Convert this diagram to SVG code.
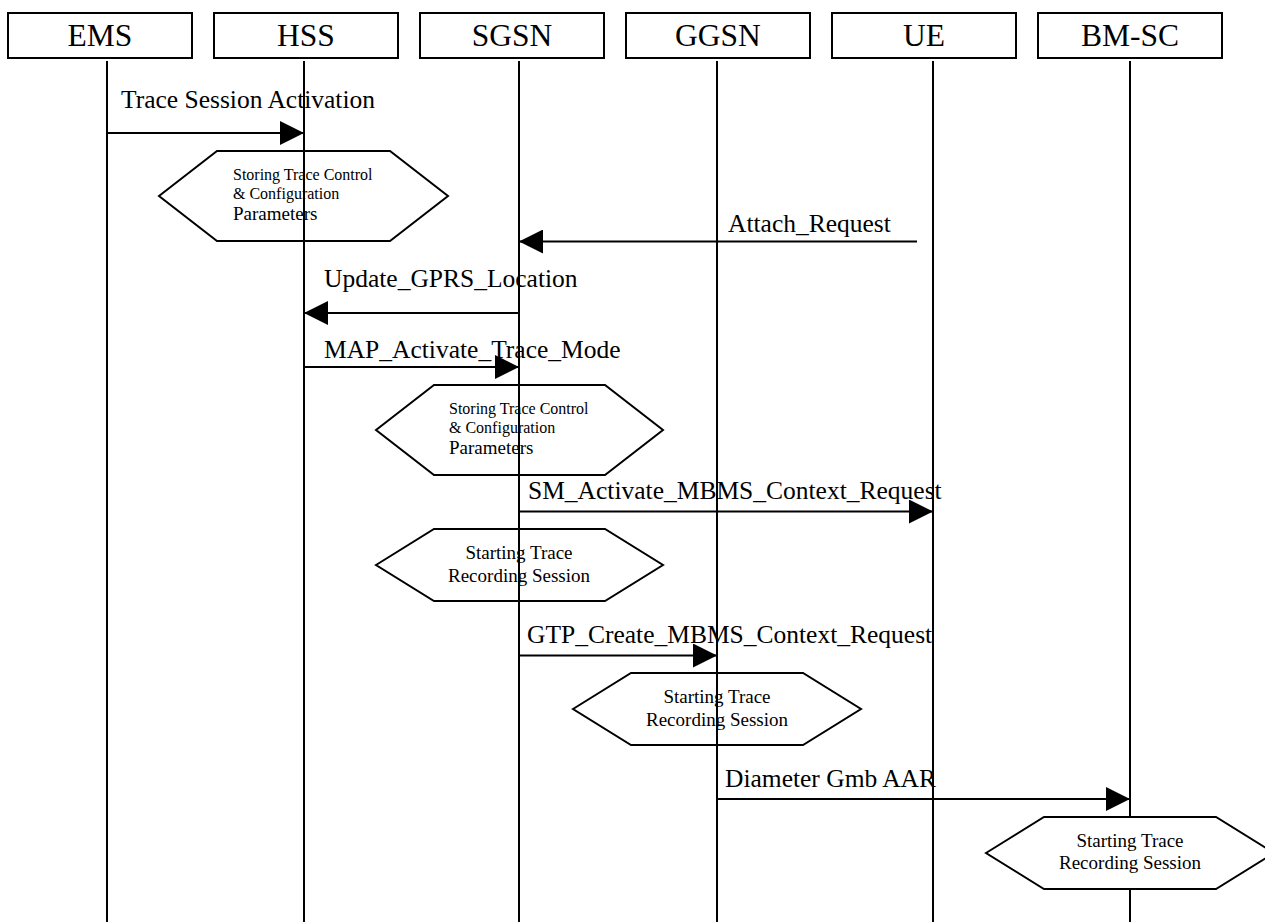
<svg xmlns="http://www.w3.org/2000/svg" width="1265" height="922" viewBox="0 0 1265 922">
<defs>
<style>
.box{fill:#fff;stroke:#000;stroke-width:2}
.life{stroke:#000;stroke-width:2;fill:none}
.hex{fill:#fff;stroke:#000;stroke-width:2}
.msg{stroke:#000;stroke-width:2;fill:none;marker-end:url(#ah)}
text{font-family:"Liberation Serif","Times New Roman",serif;fill:#000}
.hd{font-size:31.5px;text-anchor:middle}
.lb{font-size:25.5px}
.s16{font-size:16px}
.s19{font-size:19px}
.c19{font-size:19px;text-anchor:middle}
</style>
<marker id="ah" markerUnits="userSpaceOnUse" markerWidth="24" markerHeight="24" refX="24" refY="12" orient="auto">
<path d="M0,0 L24,12 L0,24 z" fill="#000"/>
</marker>
</defs>
<rect width="1265" height="922" fill="#fff"/>

<g id="hex-storing-hss">
<polygon class="hex" points="159,196 217,151 390,151 448,196 390,241 217,241"/>
<text class="s16" x="233" y="180">Storing Trace Control</text>
<text class="s16" x="233" y="199">&amp; Configuration</text>
<text class="s19" x="233" y="220">Parameters</text>
</g>
<g id="hex-storing-sgsn">
<polygon class="hex" points="376,430 434,385 605,385 663,430 605,475 434,475"/>
<text class="s16" x="449" y="414">Storing Trace Control</text>
<text class="s16" x="449" y="433">&amp; Configuration</text>
<text class="s19" x="449" y="454">Parameters</text>
</g>
<g id="hex-start-sgsn">
<polygon class="hex" points="376,565 434,529 605,529 663,565 605,601 434,601"/>
<text class="c19" x="519" y="559">Starting Trace</text>
<text class="c19" x="519" y="582">Recording Session</text>
</g>
<g id="hex-start-ggsn">
<polygon class="hex" points="573,709 631,673 803,673 861,709 803,745 631,745"/>
<text class="c19" x="717" y="703">Starting Trace</text>
<text class="c19" x="717" y="726">Recording Session</text>
</g>

<g id="EMS">
<rect class="box" x="8" y="13" width="184" height="45"/>
<text class="hd" x="100" y="46">EMS</text>
<line class="life" x1="107" y1="61" x2="107" y2="922"/>
</g>
<g id="HSS">
<rect class="box" x="214" y="13" width="184" height="45"/>
<text class="hd" x="306" y="46">HSS</text>
<line class="life" x1="304" y1="61" x2="304" y2="922"/>
</g>
<g id="SGSN">
<rect class="box" x="420" y="13" width="184" height="45"/>
<text class="hd" x="512" y="46">SGSN</text>
<line class="life" x1="519" y1="61" x2="519" y2="922"/>
</g>
<g id="GGSN">
<rect class="box" x="626" y="13" width="184" height="45"/>
<text class="hd" x="718" y="46">GGSN</text>
<line class="life" x1="717" y1="61" x2="717" y2="922"/>
</g>
<g id="UE">
<rect class="box" x="832" y="13" width="184" height="45"/>
<text class="hd" x="924" y="46">UE</text>
<line class="life" x1="933" y1="61" x2="933" y2="922"/>
</g>
<g id="BM-SC">
<rect class="box" x="1038" y="13" width="184" height="45"/>
<text class="hd" x="1130" y="46">BM-SC</text>
<line class="life" x1="1130" y1="61" x2="1130" y2="922"/>
</g>

<g id="connectors">
<line class="msg" x1="107" y1="133" x2="304" y2="133"/>
<text class="lb" x="121" y="108">Trace Session Activation</text>
<line class="msg" x1="917" y1="241.5" x2="519" y2="241.5"/>
<text class="lb" x="728" y="232">Attach_Request</text>
<line class="msg" x1="519" y1="313" x2="304" y2="313"/>
<text class="lb" x="324" y="287">Update_GPRS_Location</text>
<line class="msg" x1="304" y1="367" x2="519" y2="367"/>
<text class="lb" x="324" y="357.5">MAP_Activate_Trace_Mode</text>
<line class="msg" x1="519" y1="511.5" x2="933" y2="511.5"/>
<text class="lb" x="528" y="499">SM_Activate_MBMS_Context_Request</text>
<line class="msg" x1="519" y1="655.5" x2="717" y2="655.5"/>
<text class="lb" x="527" y="643">GTP_Create_MBMS_Context_Request</text>
<line class="msg" x1="717" y1="799" x2="1130" y2="799"/>
<text class="lb" x="725" y="787">Diameter Gmb AAR</text>
</g>

<g id="hex-start-bmsc">
<polygon class="hex" points="986,853 1044,817 1216,817 1274,853 1216,889 1044,889"/>
<text class="c19" x="1130" y="847">Starting Trace</text>
<text class="c19" x="1130" y="869">Recording Session</text>
</g>
</svg>
